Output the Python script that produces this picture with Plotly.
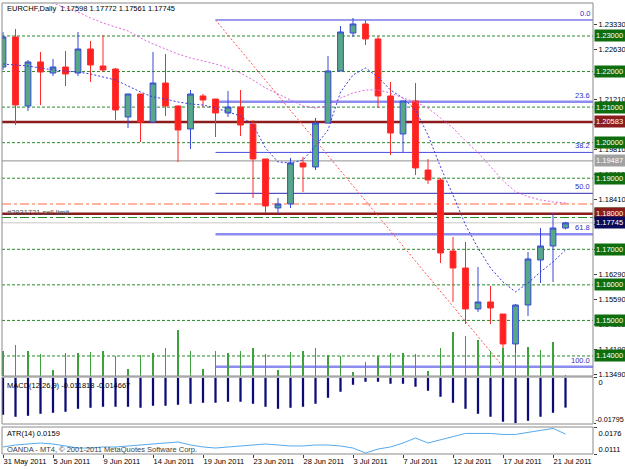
import plotly.graph_objects as go

# ---------------- data ----------------
dates = ["31 May 2011", "1 Jun 2011", "2 Jun 2011", "3 Jun 2011",
         "5 Jun 2011", "6 Jun 2011", "7 Jun 2011", "8 Jun 2011", "9 Jun 2011", "10 Jun 2011",
         "12 Jun 2011", "13 Jun 2011", "14 Jun 2011", "15 Jun 2011", "16 Jun 2011", "17 Jun 2011",
         "19 Jun 2011", "20 Jun 2011", "21 Jun 2011", "22 Jun 2011", "23 Jun 2011", "24 Jun 2011",
         "26 Jun 2011", "27 Jun 2011", "28 Jun 2011", "29 Jun 2011", "30 Jun 2011", "1 Jul 2011",
         "3 Jul 2011", "4 Jul 2011", "5 Jul 2011", "6 Jul 2011", "7 Jul 2011", "8 Jul 2011",
         "10 Jul 2011", "11 Jul 2011", "12 Jul 2011", "13 Jul 2011", "14 Jul 2011", "15 Jul 2011",
         "17 Jul 2011", "18 Jul 2011", "19 Jul 2011", "20 Jul 2011", "21 Jul 2011", "22 Jul 2011"]

open_ = [1.22128, 1.22972, 1.21031, 1.22269, 1.21959, 1.22128, 1.21959, 1.22634, 1.22156, 1.22072,
         1.20722, 1.21369, 1.20581, 1.21678, 1.21031, 1.20384, 1.21313, 1.21228, 1.20834, 1.21003,
         1.20525, 1.19541, 1.18163, 1.18275, 1.19428, 1.19316, 1.20553, 1.22016, 1.23084, 1.23338,
         1.22916, 1.21313, 1.20244, 1.21172, 1.19231, 1.18950, 1.16953, 1.16475, 1.15322, 1.15519,
         1.15181, 1.14338, 1.15434, 1.16700, 1.17094, 1.17598]
high = [1.23113, 1.23197, 1.22325, 1.22550, 1.22353, 1.22578, 1.23113, 1.22859, 1.23028, 1.22100,
        1.21369, 1.21369, 1.22550, 1.22494, 1.21059, 1.21481, 1.21369, 1.21228, 1.21453, 1.21481,
        1.20637, 1.19541, 1.18444, 1.19569, 1.19597, 1.20694, 1.22438, 1.23281, 1.23506, 1.23450,
        1.23000, 1.21706, 1.21172, 1.21678, 1.19541, 1.19006, 1.17347, 1.17206, 1.16503, 1.15969,
        1.15181, 1.15463, 1.16925, 1.17600, 1.18022, 1.17772]
low = [1.22044, 1.20497, 1.20891, 1.21059, 1.21875, 1.21594, 1.21875, 1.21706, 1.21988, 1.20637,
       1.20413, 1.20019, 1.20553, 1.20750, 1.19456, 1.19822, 1.21003, 1.20159, 1.20722, 1.20188,
       1.18444, 1.18022, 1.17994, 1.18163, 1.18613, 1.19231, 1.20553, 1.22016, 1.22972, 1.22747,
       1.20975, 1.19653, 1.19737, 1.19091, 1.18838, 1.16616, 1.15519, 1.14900, 1.15238, 1.14900,
       1.13663, 1.14056, 1.15125, 1.16053, 1.16081, 1.17561]
close = [1.22972, 1.21059, 1.22269, 1.21988, 1.22128, 1.21931, 1.22634, 1.22184, 1.22044, 1.20919,
         1.21369, 1.20581, 1.21678, 1.21031, 1.20356, 1.21369, 1.21200, 1.20834, 1.21003, 1.20497,
         1.19541, 1.18219, 1.18275, 1.19428, 1.19316, 1.20553, 1.22016, 1.23113, 1.23338, 1.22916,
         1.21313, 1.20272, 1.21172, 1.19288, 1.18950, 1.16897, 1.16475, 1.15322, 1.15519, 1.15350,
         1.14338, 1.15434, 1.16728, 1.17094, 1.17600, 1.17745]

ma_fast = [1.22212, 1.22184, 1.22156, 1.22100, 1.22044, 1.22016, 1.21988, 1.21931, 1.21847, 1.21763,
           1.21594, 1.21425, 1.21284, 1.21228, 1.21144, 1.21088, 1.21059, 1.20975, 1.20863, 1.20750,
           1.20497, 1.19850, 1.19456, 1.19428, 1.19513, 1.19906, 1.20356, 1.21425, 1.21903, 1.22100,
           1.21847, 1.21481, 1.21256, 1.20919, 1.20216, 1.19316, 1.18528, 1.17684, 1.17037, 1.16475,
           1.16081, 1.15800, 1.16053, 1.16363, 1.16644, 1.16981]
ma_slow = [1.24434, 1.24294, 1.24181, 1.24041, 1.23928, 1.23787, 1.23675, 1.23506, 1.23366, 1.23253,
           1.23141, 1.22944, 1.22775, 1.22634, 1.22494, 1.22381, 1.22297, 1.22213, 1.22100, 1.21959,
           1.21763, 1.21538, 1.21369, 1.21200, 1.21031, 1.20975, 1.21031, 1.21256, 1.21397, 1.21481,
           1.21481, 1.21397, 1.21256, 1.21144, 1.20975, 1.20694, 1.20413, 1.20047, 1.19722, 1.19328,
           1.18934, 1.18622, 1.18481, 1.18388, 1.18331, 1.18303]

volume = [2500, 3100, 2500, 2200, 600, 2300, 2300, 2400, 2500, 2000,
          700, 2100, 2300, 2800, 4600, 2500, 700, 2500, 2300, 2500,
          2800, 2200, 600, 2400, 2500, 2800, 2100, 2000, 400, 1400,
          2000, 2300, 2300, 2200, 500, 2800, 4400, 4000, 3600, 2500,
          2800, 2300, 2900, 2600, 3400, 100]

macd = [-0.01465, -0.01544, -0.01505, -0.01426, -0.01386, -0.01346, -0.01228, -0.01188, -0.01148, -0.01148,
        -0.01148, -0.01188, -0.01109, -0.01109, -0.01069, -0.01030, -0.00990, -0.00990, -0.00950, -0.00950,
        -0.01030, -0.01148, -0.01228, -0.01188, -0.01148, -0.01030, -0.00792, -0.00554, -0.00277, -0.00158,
        -0.00158, -0.00238, -0.00238, -0.00356, -0.00515, -0.00752, -0.00990, -0.01228, -0.01426, -0.01544,
        -0.01742, -0.01795, -0.01703, -0.01544, -0.01386, -0.011818]
macd_signal_last = -0.014667

atr = [0.01279, 0.01327, 0.01351, 0.01375, 0.01351, 0.01303, 0.01254, 0.01254, 0.01279, 0.01279,
       0.01303, 0.01327, 0.01351, 0.01375, 0.01399, 0.01327, 0.01279, 0.01254, 0.01279, 0.01303,
       0.01327, 0.01351, 0.01327, 0.01303, 0.01303, 0.01327, 0.01327, 0.01303, 0.01254, 0.01134,
       0.01230, 0.01279, 0.01375, 0.01495, 0.01375, 0.01447, 0.01519, 0.01605, 0.01605, 0.01605,
       0.01581, 0.01581, 0.01630, 0.01678, 0.01726, 0.0159]

price_ticks = [1.13490, 1.14190, 1.14890, 1.15590, 1.16290, 1.16990, 1.17710, 1.18410,
               1.19110, 1.19810, 1.20510, 1.21210, 1.21910, 1.22630, 1.23330]
round_levels = [1.23, 1.22, 1.21, 1.20, 1.19, 1.18, 1.17, 1.16, 1.15, 1.14]
order_levels = [1.20583, 1.18000]
gray_level = 1.19487
stop_level = 1.18275
target_level = 1.17894
fib_high, fib_low = 1.2345, 1.1370
fib_start, fib_end = 17, 40
fib_pcts = [0.0, 23.6, 38.2, 50.0, 61.8, 100.0]
macd_ticks = [0, -0.01795]
atr_ticks = [0.0176, 0.0111]
tick_idx = list(range(0, 46, 4))

# ---------------- figure ----------------
FONT = "Liberation Sans, Arial, sans-serif"
x = list(range(len(dates)))
xr = [-0.08, 47.2]

fig = go.Figure()

fig.add_trace(go.Candlestick(
    x=x, open=open_, high=high, low=low, close=close,
    increasing=dict(line=dict(color="#3848D8", width=1), fillcolor="#56A886"),
    decreasing=dict(line=dict(color="#FF2A2A", width=1), fillcolor="#FF2020"),
    whiskerwidth=0, xaxis="x", yaxis="y", hoverinfo="skip", showlegend=False))

fig.add_trace(go.Scatter(x=x, y=ma_fast, mode="lines", xaxis="x", yaxis="y",
                         line=dict(color="#3A3AE0", width=1, dash="2px,2px"), showlegend=False))
fig.add_trace(go.Scatter(x=x, y=ma_slow, mode="lines", xaxis="x", yaxis="y",
                         line=dict(color="#E066E0", width=1, dash="2px,2px"), showlegend=False))
fig.add_trace(go.Scatter(x=[fib_start, fib_end], y=[fib_high, fib_low], mode="lines",
                         xaxis="x", yaxis="y",
                         line=dict(color="#FF5050", width=1, dash="2px,2px"), showlegend=False))

fig.add_trace(go.Bar(x=x, y=volume, width=0.08, xaxis="x", yaxis="y4",
                     marker=dict(color="#3CA03C", line_width=0), showlegend=False))

fig.add_trace(go.Bar(x=x, y=macd, width=0.18, xaxis="x", yaxis="y2",
                     marker=dict(color="#0A0A78", line_width=0), showlegend=False))
# axis-only helper (draws nothing) so the overlaid label axis is rendered
fig.add_trace(go.Scatter(x=[x[0]], y=[macd_ticks[1]], mode="none", xaxis="x", yaxis="y5",
                         hoverinfo="skip", showlegend=False))

fig.add_trace(go.Scatter(x=x, y=atr, mode="lines", xaxis="x", yaxis="y3",
                         line=dict(color="#55AAF0", width=1), showlegend=False))
fig.add_trace(go.Scatter(x=[x[0]], y=[atr_ticks[1]], mode="none", xaxis="x", yaxis="y6",
                         hoverinfo="skip", showlegend=False))

shapes = []
for lv in round_levels:
    shapes.append(dict(type="line", xref="paper", yref="y", x0=0, x1=1, y0=lv, y1=lv,
                       line=dict(color="#2A8A2A", width=1, dash="3px,2px"), layer="below"))
shapes.append(dict(type="line", xref="paper", yref="y", x0=0, x1=1, y0=gray_level, y1=gray_level,
                   line=dict(color="#909090", width=1), layer="below"))
shapes.append(dict(type="line", xref="paper", yref="y", x0=0, x1=1, y0=stop_level, y1=stop_level,
                   line=dict(color="#FF6A40", width=1, dash="dashdot"), layer="below"))
shapes.append(dict(type="line", xref="paper", yref="y", x0=0, x1=1, y0=target_level, y1=target_level,
                   line=dict(color="#2A8A2A", width=1, dash="dashdot"), layer="below"))
shapes.append(dict(type="line", xref="paper", yref="y", x0=0, x1=1, y0=close[-1], y1=close[-1],
                   line=dict(color="#C8C8C8", width=1), layer="below"))
for lv in order_levels:
    shapes.append(dict(type="line", xref="paper", yref="y", x0=0, x1=1, y0=lv, y1=lv,
                       line=dict(color="#8B1C1C", width=2.5), layer="below"))
fib_styles = {0.0: ("#3A3AD8", 1), 23.6: ("#8C8CF0", 2.5), 38.2: ("#4A4AE0", 1),
              50.0: ("#2A2AB0", 1), 61.8: ("#8C8CF0", 2.5), 100.0: ("#8C8CF0", 2.5)}
fib_vals = [fib_high - (fib_high - fib_low) * p / 100.0 for p in fib_pcts]
for p, v in zip(fib_pcts, fib_vals):
    c, w = fib_styles[p]
    shapes.append(dict(type="line", xref="x", yref="y", x0=fib_start, x1=xr[1], y0=v, y1=v,
                       line=dict(color=c, width=w), layer="below"))

dom_main = [78 / 451, 1.0]
dom_macd = [30 / 451, 77 / 451]
dom_atr = [0.0, 27 / 451]
for d in (dom_main, dom_macd, dom_atr):
    shapes.append(dict(type="rect", xref="paper", yref="paper", x0=0, x1=1, y0=d[0], y1=d[1],
                       line=dict(color="#8A8A8A", width=1), fillcolor="rgba(0,0,0,0)", layer="above"))

ann = []
ann.append(dict(xref="paper", yref="paper", x=0, y=(454 - 8) / 451, xanchor="left", yanchor="middle",
                xshift=3, showarrow=False, font=dict(size=7.5, color="#000000"),
                text="EURCHF,Daily  %.5f %.5f %.5f %.5f" % (open_[-1], high[-1], low[-1], close[-1])))
ann.append(dict(xref="paper", yref="y", x=0, y=order_levels[1], xanchor="left", yanchor="middle",
                xshift=3, yshift=1, showarrow=False, font=dict(size=7.5, color="#505050"),
                text="#2831721 sell limit"))
for p, v in zip(fib_pcts, fib_vals):
    ann.append(dict(xref="paper", yref="y", x=1, y=v, xanchor="right", yanchor="bottom",
                    xshift=-1, yshift=0, showarrow=False, font=dict(size=7.5, color="#3030C8"),
                    text="%.1f" % p))
ann.append(dict(xref="paper", yref="paper", x=0, y=(454 - 385) / 451, xanchor="left", yanchor="middle",
                xshift=3, showarrow=False, font=dict(size=7.5, color="#000000"),
                text="MACD(12,26,9) %.6f %.6f" % (macd[-1], macd_signal_last)))
ann.append(dict(xref="paper", yref="paper", x=0, y=(454 - 433) / 451, xanchor="left", yanchor="middle",
                xshift=3, showarrow=False, font=dict(size=7.5, color="#000000"),
                text="ATR(14) %.4f" % atr[-1]))
ann.append(dict(xref="paper", yref="paper", x=0, y=(454 - 449) / 451, xanchor="left", yanchor="middle",
                xshift=3, showarrow=False, font=dict(size=7.5, color="#404040"),
                text="OANDA - MT4, © 2001-2011 MetaQuotes Software Corp."))


def box(level, color):
    return dict(xref="paper", yref="y", x=1, y=level, xanchor="left", yanchor="middle",
                xshift=1, showarrow=False, text="%.5f" % level, bgcolor=color,
                font=dict(size=7.5, color="#FFFFFF"), borderpad=1, width=28, align="left")


for lv in round_levels:
    ann.append(box(lv, "#0E6E0E"))
ann.append(box(gray_level, "#A0A0A0"))
for lv in order_levels:
    ann.append(box(lv, "#8B1C1C"))
ann.append(box(close[-1], "#0A0A5A"))

axis_common = dict(showgrid=False, zeroline=False, automargin=False,
                   tickfont=dict(size=7.5, color="#000000"))

fig.update_layout(
    width=625, height=469,
    margin=dict(l=2, r=32, t=3, b=15, autoexpand=False),
    paper_bgcolor="#FFFFFF", plot_bgcolor="#FFFFFF",
    font=dict(family=FONT, size=7.5, color="#000000"),
    showlegend=False, boxgap=0.34,
    xaxis=dict(domain=[0, 1], range=xr, anchor="y3", tickvals=tick_idx,
               ticktext=[dates[i] for i in tick_idx], ticks="outside", ticklen=3,
               tickcolor="#404040", ticklabelposition="outside right",
               rangeslider=dict(visible=False), **axis_common),
    yaxis=dict(domain=dom_main, range=[1.13437, 1.23928], side="right", anchor="x",
               tickvals=price_ticks, ticktext=["%.5f" % t for t in price_ticks],
               ticks="outside", ticklen=3, tickcolor="#404040", **axis_common),
    yaxis4=dict(overlaying="y", range=[0, 37300], visible=False, anchor="x"),
    yaxis2=dict(domain=dom_macd, range=[-0.0183, 0.0003], side="right", anchor="x",
                tickvals=[macd_ticks[0]], ticktext=["0"], ticks="outside", ticklen=3,
                tickcolor="#404040", ticklabelshift=5, **axis_common),
    yaxis5=dict(overlaying="y2", range=[-0.0183, 0.0003], side="right", anchor="x",
                tickvals=[macd_ticks[1]], ticktext=["%.5f" % macd_ticks[1]], ticks="outside",
                ticklen=2, tickcolor="#404040", ticklabelshift=-4, ticklabelstandoff=-2,
                showgrid=False, zeroline=False, automargin=False,
                tickfont=dict(size=7.2, color="#000000")),
    yaxis3=dict(domain=dom_atr, range=[atr_ticks[1], atr_ticks[0]], side="right", anchor="x",
                tickvals=[atr_ticks[0]], ticktext=["%.4f" % atr_ticks[0]], ticks="outside",
                ticklen=3, tickcolor="#404040", ticklabelshift=6, **axis_common),
    yaxis6=dict(overlaying="y3", range=[atr_ticks[1], atr_ticks[0]], side="right", anchor="x",
                tickvals=[atr_ticks[1]], ticktext=["%.4f" % atr_ticks[1]], ticks="outside",
                ticklen=3, tickcolor="#404040", ticklabelshift=-5, **axis_common),
    shapes=shapes, annotations=ann,
)

fig.write_html("out.html")
